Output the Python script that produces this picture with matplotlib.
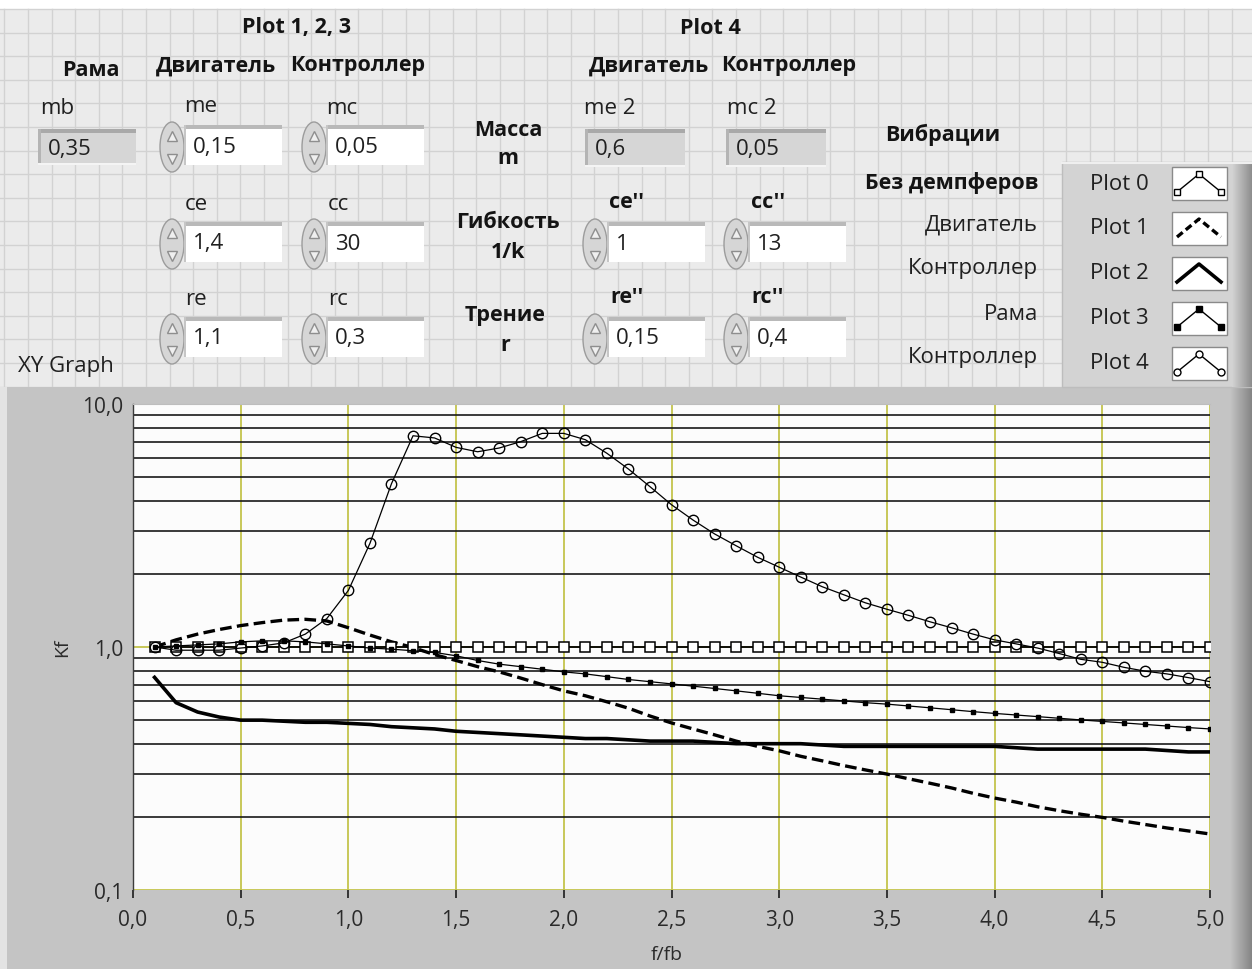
import numpy as np
import matplotlib
matplotlib.use("Agg")
import matplotlib.pyplot as plt
import matplotlib.ticker as ticker
from matplotlib.patches import Rectangle, Ellipse
from matplotlib.colors import LinearSegmentedColormap

plt.rcParams['font.family'] = ['Open Sans', 'Noto Sans', 'DejaVu Sans']

# ---- data ----
f_fb = [0.1, 0.2, 0.3, 0.4, 0.5, 0.6, 0.7, 0.8, 0.9, 1.0,
        1.1, 1.2, 1.3, 1.4, 1.5, 1.6, 1.7, 1.8, 1.9, 2.0,
        2.1, 2.2, 2.3, 2.4, 2.5, 2.6, 2.7, 2.8, 2.9, 3.0,
        3.1, 3.2, 3.3, 3.4, 3.5, 3.6, 3.7, 3.8, 3.9, 4.0,
        4.1, 4.2, 4.3, 4.4, 4.5, 4.6, 4.7, 4.8, 4.9, 5.0]

# Plot 0 - open squares
kf_plot0 = [1.0, 1.0, 1.0, 1.0, 1.0, 1.0, 1.0, 1.0, 1.0, 1.0,
            1.0, 1.0, 1.0, 1.0, 1.0, 1.0, 1.0, 1.0, 1.0, 1.0,
            1.0, 1.0, 1.0, 1.0, 1.0, 1.0, 1.0, 1.0, 1.0, 1.0,
            1.0, 1.0, 1.0, 1.0, 1.0, 1.0, 1.0, 1.0, 1.0, 1.0,
            1.0, 1.0, 1.0, 1.0, 1.0, 1.0, 1.0, 1.0, 1.0, 1.0]
# Plot 1 - thick dashed
kf_plot1 = [1.00, 1.07, 1.13, 1.18, 1.225, 1.26, 1.29, 1.30, 1.28, 1.20,
            1.12, 1.05, 0.995, 0.93, 0.88, 0.83, 0.79, 0.745, 0.70, 0.66,
            0.63, 0.595, 0.56, 0.52, 0.487, 0.46, 0.435, 0.41, 0.39, 0.374,
            0.355, 0.34, 0.325, 0.312, 0.30, 0.287, 0.275, 0.263, 0.25, 0.239,
            0.23, 0.22, 0.212, 0.205, 0.199, 0.192, 0.186, 0.18, 0.175, 0.17]
# Plot 2 - thick solid
kf_plot2 = [0.75, 0.59, 0.54, 0.515, 0.50, 0.50, 0.495, 0.49, 0.49, 0.485,
            0.48, 0.47, 0.465, 0.46, 0.45, 0.445, 0.44, 0.435, 0.43, 0.425,
            0.42, 0.42, 0.415, 0.41, 0.41, 0.41, 0.405, 0.40, 0.40, 0.40,
            0.40, 0.395, 0.39, 0.39, 0.39, 0.39, 0.39, 0.39, 0.39, 0.39,
            0.385, 0.38, 0.38, 0.38, 0.38, 0.38, 0.38, 0.375, 0.37, 0.37]
# Plot 3 - small filled squares
kf_plot3 = [1.00, 1.01, 1.02, 1.03, 1.05, 1.06, 1.06, 1.05, 1.03, 1.01,
            0.99, 0.98, 0.965, 0.95, 0.92, 0.88, 0.85, 0.83, 0.81, 0.79,
            0.775, 0.755, 0.735, 0.72, 0.705, 0.69, 0.675, 0.66, 0.645, 0.63,
            0.62, 0.61, 0.60, 0.59, 0.582, 0.572, 0.562, 0.552, 0.542, 0.533,
            0.525, 0.517, 0.509, 0.501, 0.494, 0.487, 0.48, 0.473, 0.466, 0.46]
# Plot 4 - open circles (resonance)
kf_plot4 = [1.00, 0.97, 0.97, 0.97, 0.99, 1.01, 1.04, 1.13, 1.31, 1.71,
            2.67, 4.70, 7.40, 7.25, 6.63, 6.36, 6.59, 7.00, 7.57, 7.57,
            7.13, 6.27, 5.40, 4.57, 3.85, 3.33, 2.92, 2.61, 2.34, 2.13,
            1.94, 1.77, 1.64, 1.52, 1.43, 1.35, 1.27, 1.20, 1.13, 1.07,
            1.03, 0.99, 0.94, 0.89, 0.865, 0.825, 0.795, 0.775, 0.748, 0.72]

x_ticks = [0.0, 0.5, 1.0, 1.5, 2.0, 2.5, 3.0, 3.5, 4.0, 4.5, 5.0]
y_ticks = [0.1, 1.0, 10.0]

# ---- front panel (pixel coordinates) ----
fig = plt.figure(figsize=(12.52, 9.70), dpi=100)
fig.patch.set_facecolor('white')
bg = fig.add_axes([0, 0, 1, 1])
bg.axis('off')

bg.add_patch(Rectangle((0, 10), 1252, 378, fc='#ebebeb', ec='none', zorder=0))
for gx in np.arange(4.4, 1252, 23.6):
    bg.plot([gx, gx], [10, 388], color='#d2d2d2', lw=1, zorder=1)
for gy in np.arange(10, 388, 23.6):
    bg.plot([0, 1252], [gy, gy], color='#d2d2d2', lw=1, zorder=1)

txt = dict(fontsize=16, color='#202020', zorder=6)
bold = dict(fontsize=15.5, color='#141414', fontweight='bold', zorder=6)


def label(x, y, s, ha='center', style=txt):
    bg.text(x, y, s, ha=ha, va='center', **style)


def indicator(x0, y0, w, h, val):
    bg.add_patch(Rectangle((x0, y0), w, h, fc='#d6d6d6', ec='none', zorder=3))
    bg.add_patch(Rectangle((x0, y0), w, 4, fc='#a9a9a9', ec='none', zorder=4))
    bg.add_patch(Rectangle((x0, y0), 3, h, fc='#b4b4b4', ec='none', zorder=4))
    bg.add_patch(Rectangle((x0, y0 + h - 2), w, 2, fc='#f4f4f4', ec='none', zorder=4))
    label(x0 + 10, y0 + h / 2 + 1, val, ha='left')


def control(x0, y0, val, w=98, h=40):
    bg.add_patch(Ellipse((x0 + 12, y0 + h / 2 + 2), 24, h + 10, fc='#d6d6d6',
                         ec='#9c9c9c', lw=1, zorder=4))
    bg.plot([x0 + 12], [y0 + 11], marker='^', ms=7, mfc='#efefef', mec='#8e8e8e', zorder=5)
    bg.plot([x0 + 12], [y0 + h - 6], marker='v', ms=7, mfc='#efefef', mec='#8e8e8e', zorder=5)
    bx = x0 + 24
    bg.add_patch(Rectangle((bx, y0), w, h, fc='white', ec='none', zorder=3))
    bg.add_patch(Rectangle((bx, y0), w, 4, fc='#b9b9b9', ec='none', zorder=4))
    bg.add_patch(Rectangle((bx, y0), 2, h, fc='#c6c6c6', ec='none', zorder=4))
    label(bx + 9, y0 + h / 2 + 1, val, ha='left')


label(297, 28, 'Plot 1, 2, 3', style=bold)
label(710, 28, 'Plot 4', style=bold)
label(91, 70, 'Рама', style=bold)
label(216, 66, 'Двигатель', style=bold)
label(358, 66, 'Контроллер', style=bold)
label(649, 66, 'Двигатель', style=bold)
label(789, 66, 'Контроллер', style=bold)

label(57, 109, 'mb')
label(201, 107, 'me')
label(342, 109, 'mc')
label(610, 109, 'me 2')
label(752, 109, 'mc 2')
indicator(38, 130, 98, 36, '0,35')
control(160, 126, '0,15')
control(302, 126, '0,05')
indicator(585, 130, 100, 38, '0,6')
indicator(726, 130, 100, 38, '0,05')

label(196, 205, 'ce')
label(338, 205, 'cc')
label(627, 203, "ce''", style=bold)
label(768, 203, "cc''", style=bold)
control(160, 223, '1,4')
control(302, 223, '30')
control(583, 223, '1')
control(724, 223, '13')

label(196, 300, 're')
label(338, 300, 'rc')
label(627, 298, "re''", style=bold)
label(768, 298, "rc''", style=bold)
control(160, 318, '1,1')
control(302, 318, '0,3')
control(583, 318, '0,15')
control(724, 318, '0,4')

label(508, 130, 'Масса', style=bold)
label(508, 158, 'm', style=bold)
label(508, 223, 'Гибкость', style=bold)
label(508, 252, '1/k', style=bold)
label(505, 316, 'Трение', style=bold)
label(505, 346, 'r', style=bold)

label(18, 367, 'XY Graph', ha='left')

label(943, 135, 'Вибрации', style=bold)
label(1038, 183, 'Без демпферов', ha='right', style=bold)
label(1038, 225, 'Двигатель', ha='right')
label(1038, 269, 'Контроллер', ha='right')
label(1038, 315, 'Рама', ha='right')
label(1038, 358, 'Контроллер', ha='right')

# graph frame
shade = LinearSegmentedColormap.from_list('shade', ['#c4c4c4', '#858585'])
bg.add_patch(Rectangle((0, 388), 7, 582, fc='#e3e3e3', ec='none', zorder=2))
bg.add_patch(Rectangle((7, 388), 1245, 582, fc='#c4c4c4', ec='none', zorder=2))
bg.imshow(np.linspace(0, 1, 40).reshape(1, -1), extent=(1230, 1252, 970, 388),
          cmap=shade, aspect='auto', zorder=3)

# legend box
bg.add_patch(Rectangle((1062, 163), 190, 225, fc='#d3d3d3', ec='#bdbdbd', lw=1, zorder=3))
bg.imshow(np.linspace(0, 1, 40).reshape(1, -1), extent=(1232, 1252, 388, 163),
          cmap=LinearSegmentedColormap.from_list('s2', ['#d3d3d3', '#8e8e8e']),
          aspect='auto', zorder=4)
bg.plot([1062, 1252], [163.5, 163.5], color='#efefef', lw=1.5, zorder=5)

icon_rows = [184, 229, 274, 319, 364]
icon_styles = [
    dict(color='k', lw=1.0, marker='s', ms=5, mfc='white', mew=1.0),
    dict(color='k', lw=2.4, ls=(0, (2.2, 1.2))),
    dict(color='k', lw=2.6),
    dict(color='k', lw=1.0, marker='s', ms=4, mfc='k'),
    dict(color='k', lw=1.0, marker='o', ms=5, mfc='white', mew=1.0),
]
for i, (yc, st) in enumerate(zip(icon_rows, icon_styles)):
    label(1090, yc, 'Plot %d' % i, ha='left')
    bg.add_patch(Rectangle((1172, yc - 16), 55, 33, fc='white', ec='#8a8a8a', lw=1, zorder=5))
    bg.plot([1177, 1199, 1221], [yc + 9, yc - 9, yc + 9], zorder=6, **st)

bg.set_xlim(0, 1252)
bg.set_ylim(970, 0)

# ---- XY graph ----
ax = fig.add_axes([133 / 1252, 79 / 970, 1077 / 1252, 486 / 970])
ax.set_facecolor('#fcfcfc')
ax.set_yscale('log')
ax.set_xlim(0, 5)
ax.set_ylim(0.1, 10)

comma = ticker.FuncFormatter(lambda v, p: ('%.1f' % v).replace('.', ','))
ax.xaxis.set_major_locator(ticker.FixedLocator(x_ticks))
ax.yaxis.set_major_locator(ticker.FixedLocator(y_ticks))
ax.yaxis.set_minor_locator(ticker.LogLocator(base=10, subs=np.arange(2, 10)))
ax.yaxis.set_minor_formatter(ticker.NullFormatter())
ax.xaxis.set_major_formatter(comma)
ax.yaxis.set_major_formatter(comma)

ax.set_axisbelow(True)
ax.grid(which='minor', axis='y', color='#1a1a1a', lw=1.2)
ax.grid(which='major', axis='y', color='#c4c44c', lw=1.3)
ax.grid(which='major', axis='x', color='#c4c44c', lw=1.3)

for s in ['right', 'bottom']:
    ax.spines[s].set_visible(False)
ax.spines['left'].set_color('#3c3c3c')
ax.spines['left'].set_linewidth(1.0)
ax.spines['top'].set_color('#bdbdbd')

ax.tick_params(axis='y', which='both', length=0, pad=7, labelsize=15, labelcolor='#2a2a2a')
ax.tick_params(axis='x', which='major', length=6, width=1.3, direction='out', pad=8,
               labelsize=15, labelcolor='#2a2a2a', color='#2a2a2a')

ax.set_ylabel('Kf', fontsize=14, color='#2a2a2a')
ax.yaxis.set_label_coords(-0.057, 0.5)
ax.set_xlabel('f/fb', fontsize=14, color='#2a2a2a')
ax.xaxis.set_label_coords(0.496, -0.113)

ax.plot(f_fb, kf_plot2, color='k', lw=2.6, zorder=3)
ax.plot(f_fb, kf_plot1, color='k', lw=2.4, ls=(0, (3.5, 1.6)), zorder=3)
ax.plot(f_fb, kf_plot0, color='k', lw=1.3, marker='s', ms=6.5, mfc='white',
        mec='k', mew=1.1, zorder=4)
ax.plot(f_fb, kf_plot3, color='k', lw=0.9, marker='s', ms=3.5, mfc='k', zorder=4)
ax.plot(f_fb, kf_plot4, color='k', lw=0.9, marker='o', ms=7.5, mfc='none',
        mec='k', mew=1.0, zorder=5)

plt.savefig('out.png', dpi=100)
